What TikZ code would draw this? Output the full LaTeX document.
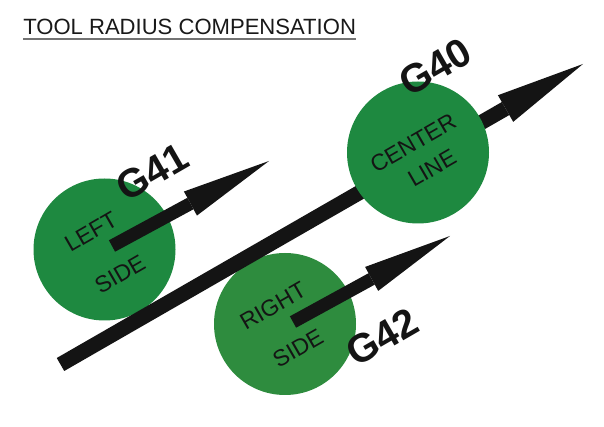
\documentclass[tikz,border=0pt]{standalone}
\usepackage{fontspec}
\setmainfont{Liberation Sans}
\usetikzlibrary{arrows.meta}
\definecolor{dotgreen}{RGB}{30,137,64}
\definecolor{dotgreenb}{RGB}{46,140,62}
\definecolor{inkblack}{RGB}{20,20,20}
\tikzset{
  dot/.style={circle,fill=dotgreen,draw=none,inner sep=0pt,minimum size=106.5pt},
  bigarrow/.style={inkblack,line width=11.25pt,-{Triangle[length=67pt,width=23pt,line width=0pt]}},
  smallarrow/.style={inkblack,line width=9.75pt,-{Triangle[length=67pt,width=20.5pt,line width=0pt]}},
  gcode/.style={font=\fontsize{30pt}{30pt}\selectfont\bfseries,text=inkblack,rotate=30,inner sep=0pt},
  dotlabel/.style={font=\fontsize{17.25pt}{17.25pt}\selectfont,text=black!92,rotate=30,inner sep=0pt},
}
\begin{document}
\begin{tikzpicture}[x=0.75pt,y=-0.75pt]
\useasboundingbox[fill=white] (0,0) rectangle (604,427);
% title
\node[anchor=base west,inner sep=0pt,font=\fontsize{16.55pt}{16.55pt}\selectfont,text=black!90] (title) at (23,35) {TOOL RADIUS COMPENSATION};
\draw[black!55,line width=1.6pt] ([yshift=-3pt]title.base west) -- ([yshift=-3pt]title.base east);
% circles
\node[dot] (leftdot) at (104.5,249.5) {};
\node[dot,fill=dotgreenb] (rightdot) at (285,324) {};
% main arrow
\coordinate (maintail) at (60.5,364.5);
\coordinate (maintip) at (583,64);
\draw[bigarrow] (maintail) -- (maintip);
\node[dot] (centerdot) at (418,152.5) {};
% small arrows
\coordinate (lefttail) at (112,246);
\coordinate (lefttip) at (269,161);
\draw[smallarrow] (lefttail) -- (lefttip);
\coordinate (righttail) at (293,322);
\coordinate (righttip) at (450,236);
\draw[smallarrow] (righttail) -- (righttip);
% labels
\node[gcode] (g41) at (152,172) {G41};
\node[gcode] (g40) at (435,67) {G40};
\node[gcode] (g42) at (382,337) {G42};
\node[dotlabel] (lefttext) at (91,232) {LEFT};
\node[dotlabel] (leftside) at (120,274) {SIDE};
\node[dotlabel] (centertext) at (413,143) {CENTER};
\node[dotlabel] (linetext) at (432,168) {LINE};
\node[dotlabel] (righttext) at (273,306) {RIGHT};
\node[dotlabel] (rightside) at (298,348) {SIDE};
\end{tikzpicture}
\end{document}
